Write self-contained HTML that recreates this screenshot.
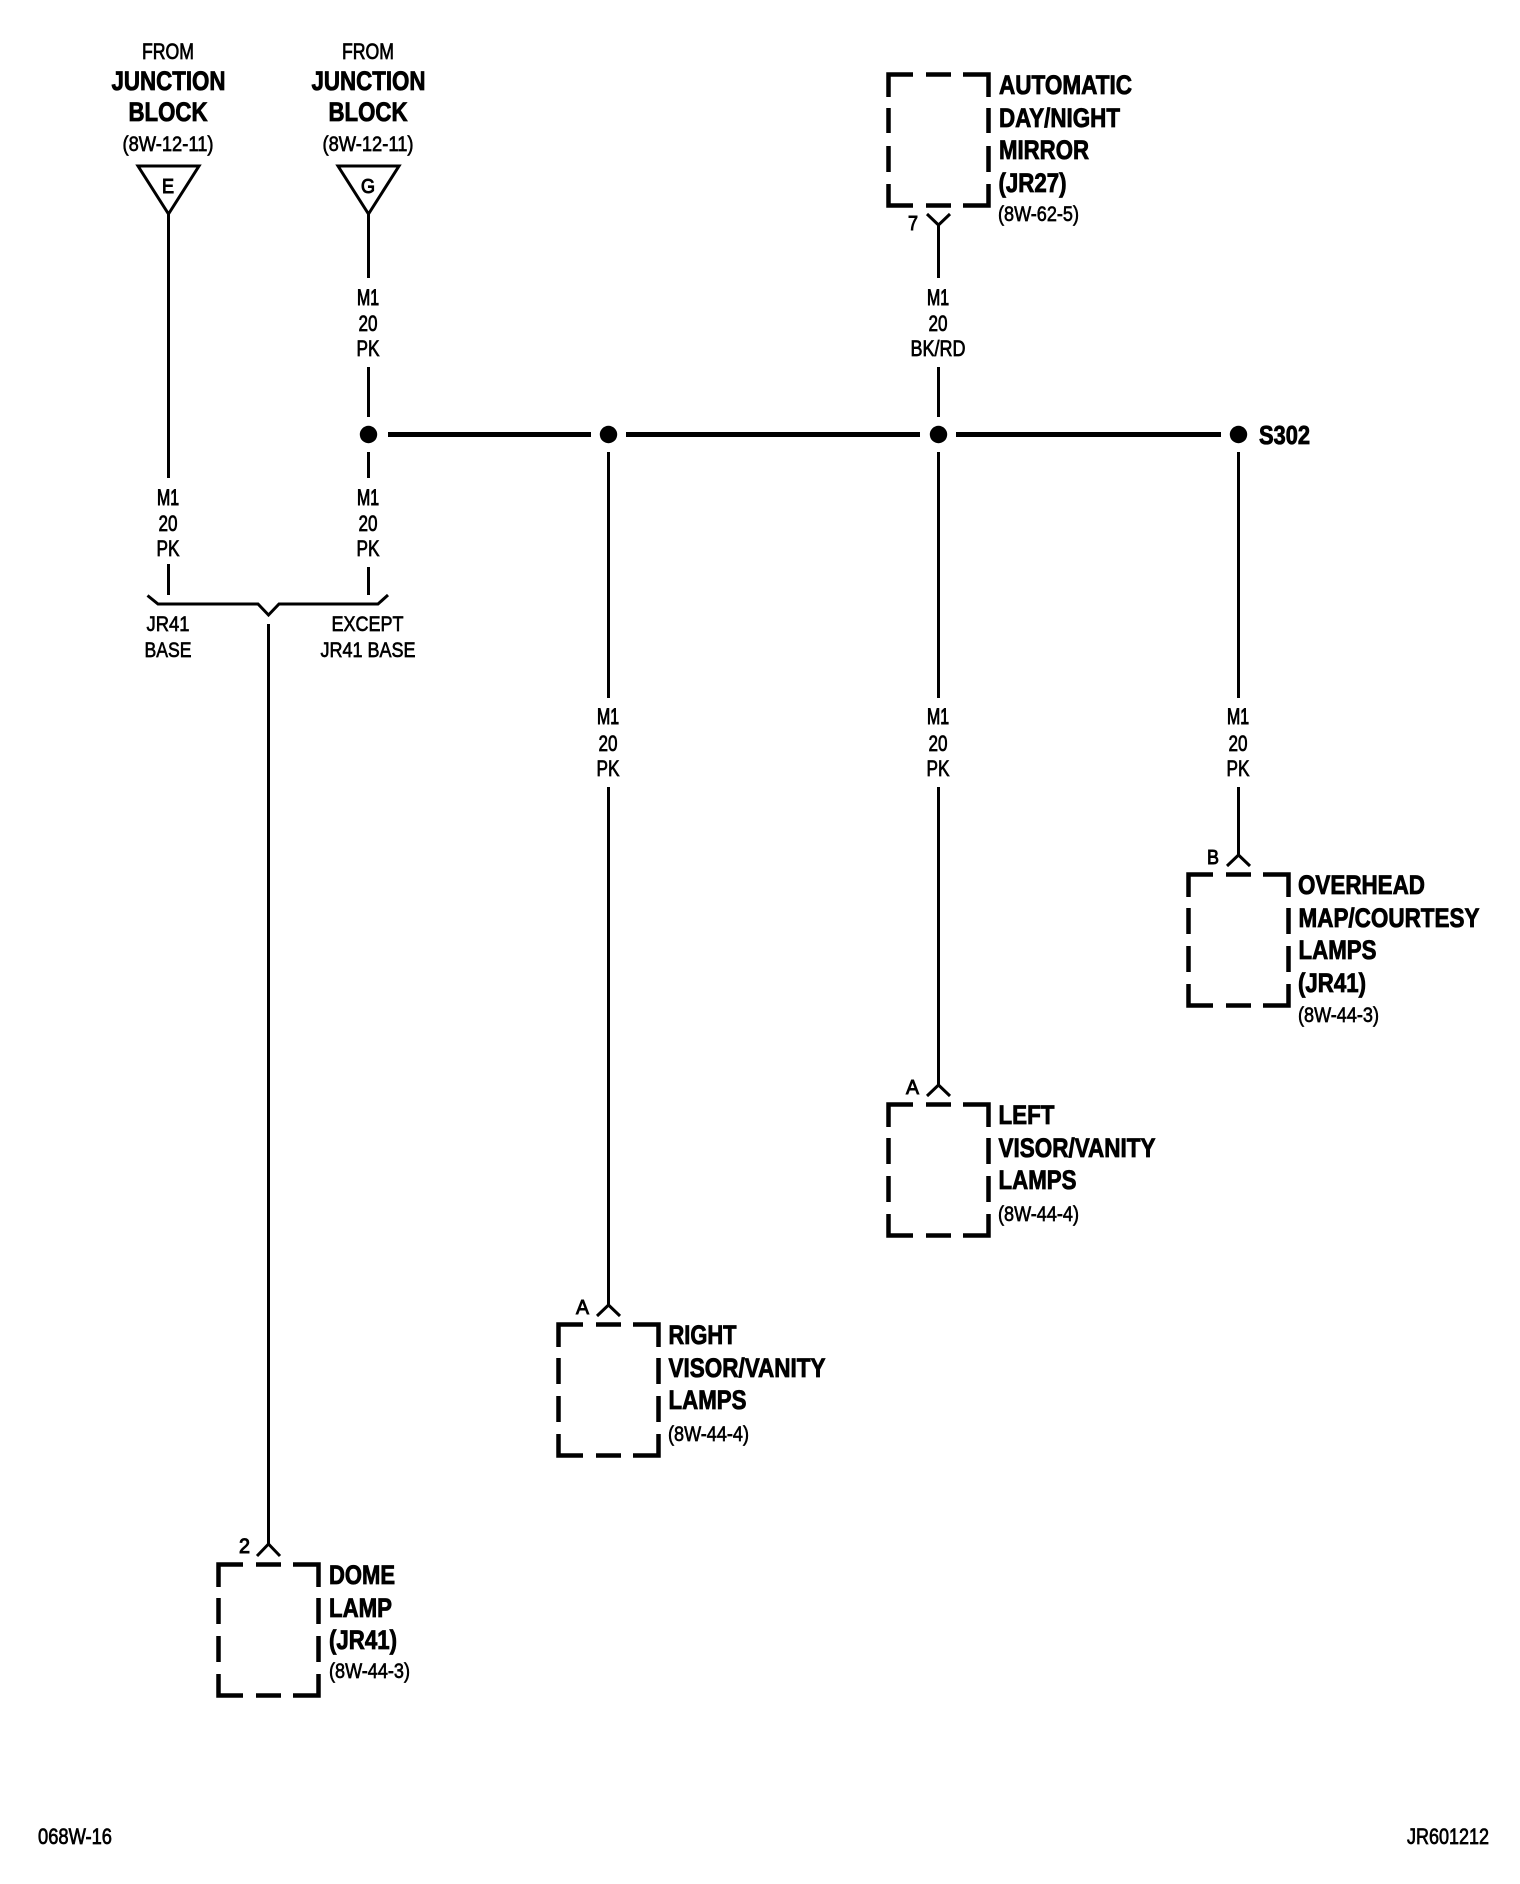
<!DOCTYPE html>
<html>
<head>
<meta charset="utf-8">
<title>Wiring diagram</title>
<style>
html,body{margin:0;padding:0;background:#fff;}
svg{display:block;}
text{font-family:"Liberation Sans",Arial,sans-serif;fill:#000;}
.b{font-weight:700;font-size:27px;stroke:#000;stroke-width:.85px;}
.r{font-size:22px;stroke:#000;stroke-width:.75px;}
.s{font-size:21px;stroke:#000;stroke-width:.65px;}
.c{text-anchor:middle;}
.w{fill:none;stroke:#000;stroke-width:3px;}
.bus{fill:none;stroke:#000;stroke-width:5px;}
.box{fill:none;stroke:#000;stroke-width:4.5px;stroke-linejoin:miter;}
.a{fill:none;stroke:#000;stroke-width:3px;stroke-linejoin:miter;}
</style>
</head>
<body>
<svg width="1520" height="1884" viewBox="0 0 1520 1884" xmlns="http://www.w3.org/2000/svg">
<rect width="1520" height="1884" fill="#fff"/>

<!-- Wires -->
<path class="w" d="M168.5 214V478M168.5 564V595"/>
<path class="w" d="M368.5 214V278M368.5 367V417M368.5 452V478M368.5 567V595"/>
<path class="w" d="M938.5 225V278M938.5 367V417M938.5 452V698M938.5 787V1085"/>
<path class="w" d="M608.5 452V698M608.5 787V1305"/>
<path class="w" d="M1238.5 452V698M1238.5 787V855"/>
<path class="w" d="M268.5 624V1544"/>

<!-- Bus -->
<path class="bus" d="M388 434.500H591M626 434.500H920M956 434.500H1221"/>
<circle cx="368.5" cy="434.5" r="8.7"/>
<circle cx="608.5" cy="434.5" r="8.7"/>
<circle cx="938.5" cy="434.5" r="8.7"/>
<circle cx="1238.5" cy="434.5" r="8.7"/>

<!-- Triangles -->
<path class="a" d="M138 166H199L168.5 214Z"/>
<path class="a" d="M338 166H399L368.5 214Z"/>

<!-- Brace -->
<path class="a" d="M147.5 595.500L158 604H258L268.500 615L279 604H378L388 595"/>

<!-- Connector arrows -->
<path class="a" d="M927 214L938.500 225L950 214"/>
<path class="a" d="M1227 866L1238.500 855L1250 866"/>
<path class="a" d="M927 1096L938.500 1085L950 1096"/>
<path class="a" d="M597 1316L608.500 1305L620 1316"/>
<path class="a" d="M257 1556L268.500 1544L280 1556"/>

<!-- Dashed boxes -->
<path class="box" d="M888.500 97V74.500H913M926 74.500H951M963 74.500H988.500V97M888.500 108V133M888.500 146V172M888.500 184V205.500H913M926 205.500H951M963 205.500H988.500V184M988.500 108V133M988.500 146V172"/>
<path class="box" d="M1188.500 897V874.500H1213M1226 874.500H1251M1263 874.500H1288.500V897M1188.500 908V934M1188.500 946V972M1188.500 984V1005.500H1213M1226 1005.500H1251M1263 1005.500H1288.500V984M1288.500 908V934M1288.500 946V972"/>
<path class="box" d="M888.500 1127V1104.500H913M926 1104.500H951M963 1104.500H988.500V1127M888.500 1138V1164M888.500 1176V1202M888.500 1214V1235.500H913M926 1235.500H951M963 1235.500H988.500V1214M988.500 1138V1164M988.500 1176V1202"/>
<path class="box" d="M558.500 1347V1324.500H583M596 1324.500H621M633 1324.500H658.500V1347M558.500 1358V1384M558.500 1396V1422M558.500 1434V1455.500H583M596 1455.500H621M633 1455.500H658.500V1434M658.500 1358V1384M658.500 1396V1422"/>
<path class="box" d="M218.500 1587V1564.500H243M256 1564.500H281M293 1564.500H318.500V1587M218.500 1598V1624M218.500 1636V1662M218.500 1674V1695.500H243M256 1695.500H281M293 1695.500H318.500V1674M318.500 1598V1624M318.500 1636V1662"/>

<!-- Top left labels -->
<text class="r c" x="168" y="59" textLength="52" lengthAdjust="spacingAndGlyphs">FROM</text>
<text class="b c" x="168.500" y="90" textLength="114" lengthAdjust="spacingAndGlyphs">JUNCTION</text>
<text class="b c" x="168" y="121" textLength="79" lengthAdjust="spacingAndGlyphs">BLOCK</text>
<text class="s c" x="168" y="151" textLength="91" lengthAdjust="spacingAndGlyphs">(8W-12-11)</text>
<text class="r c" x="168" y="193" style="font-size:20px;stroke-width:1px" textLength="12" lengthAdjust="spacingAndGlyphs">E</text>

<text class="r c" x="368" y="59" textLength="52" lengthAdjust="spacingAndGlyphs">FROM</text>
<text class="b c" x="368.500" y="90" textLength="114" lengthAdjust="spacingAndGlyphs">JUNCTION</text>
<text class="b c" x="368" y="121" textLength="79" lengthAdjust="spacingAndGlyphs">BLOCK</text>
<text class="s c" x="368" y="151" textLength="91" lengthAdjust="spacingAndGlyphs">(8W-12-11)</text>
<text class="r c" x="368" y="193" style="font-size:20px;stroke-width:1px" textLength="14" lengthAdjust="spacingAndGlyphs">G</text>

<!-- Wire labels -->
<text class="r c" x="168" y="505" style="stroke-width:1px" textLength="22" lengthAdjust="spacingAndGlyphs">M1</text>
<text class="r c" x="168" y="531" textLength="19" lengthAdjust="spacingAndGlyphs">20</text>
<text class="r c" x="168" y="556" textLength="23" lengthAdjust="spacingAndGlyphs">PK</text>

<text class="r c" x="368" y="505" style="stroke-width:1px" textLength="22" lengthAdjust="spacingAndGlyphs">M1</text>
<text class="r c" x="368" y="531" textLength="19" lengthAdjust="spacingAndGlyphs">20</text>
<text class="r c" x="368" y="556" textLength="23" lengthAdjust="spacingAndGlyphs">PK</text>

<text class="r c" x="368" y="305" style="stroke-width:1px" textLength="22" lengthAdjust="spacingAndGlyphs">M1</text>
<text class="r c" x="368" y="331" textLength="19" lengthAdjust="spacingAndGlyphs">20</text>
<text class="r c" x="368" y="356" textLength="23" lengthAdjust="spacingAndGlyphs">PK</text>

<text class="r c" x="938" y="305" style="stroke-width:1px" textLength="22" lengthAdjust="spacingAndGlyphs">M1</text>
<text class="r c" x="938" y="331" textLength="19" lengthAdjust="spacingAndGlyphs">20</text>
<text class="r c" x="938" y="356" textLength="55" lengthAdjust="spacingAndGlyphs">BK/RD</text>

<text class="r c" x="608" y="724" style="stroke-width:1px" textLength="22" lengthAdjust="spacingAndGlyphs">M1</text>
<text class="r c" x="608" y="751" textLength="19" lengthAdjust="spacingAndGlyphs">20</text>
<text class="r c" x="608" y="776" textLength="23" lengthAdjust="spacingAndGlyphs">PK</text>

<text class="r c" x="938" y="724" style="stroke-width:1px" textLength="22" lengthAdjust="spacingAndGlyphs">M1</text>
<text class="r c" x="938" y="751" textLength="19" lengthAdjust="spacingAndGlyphs">20</text>
<text class="r c" x="938" y="776" textLength="23" lengthAdjust="spacingAndGlyphs">PK</text>

<text class="r c" x="1238" y="724" style="stroke-width:1px" textLength="22" lengthAdjust="spacingAndGlyphs">M1</text>
<text class="r c" x="1238" y="751" textLength="19" lengthAdjust="spacingAndGlyphs">20</text>
<text class="r c" x="1238" y="776" textLength="23" lengthAdjust="spacingAndGlyphs">PK</text>

<!-- Brace labels -->
<text class="s c" x="168" y="631" textLength="43" lengthAdjust="spacingAndGlyphs">JR41</text>
<text class="s c" x="168" y="657" textLength="47" lengthAdjust="spacingAndGlyphs">BASE</text>
<text class="s c" x="367.500" y="631" textLength="72" lengthAdjust="spacingAndGlyphs">EXCEPT</text>
<text class="s c" x="368" y="657" textLength="95" lengthAdjust="spacingAndGlyphs">JR41 BASE</text>

<!-- Splice -->
<text class="b" x="1259" y="444" style="font-size:26px" textLength="51" lengthAdjust="spacingAndGlyphs">S302</text>

<!-- Mirror -->
<text class="b" x="999" y="94" textLength="133" lengthAdjust="spacingAndGlyphs">AUTOMATIC</text>
<text class="b" x="999" y="127" textLength="121" lengthAdjust="spacingAndGlyphs">DAY/NIGHT</text>
<text class="b" x="999" y="159" textLength="90" lengthAdjust="spacingAndGlyphs">MIRROR</text>
<text class="b" x="998.500" y="192" textLength="68" lengthAdjust="spacingAndGlyphs">(JR27)</text>
<text class="s" x="998" y="221" textLength="81" lengthAdjust="spacingAndGlyphs">(8W-62-5)</text>
<text class="r" x="908" y="230" style="font-size:20px;stroke-width:.9px" textLength="10" lengthAdjust="spacingAndGlyphs">7</text>

<!-- Overhead -->
<text class="b" x="1298" y="894" textLength="127" lengthAdjust="spacingAndGlyphs">OVERHEAD</text>
<text class="b" x="1298.500" y="927" textLength="181" lengthAdjust="spacingAndGlyphs">MAP/COURTESY</text>
<text class="b" x="1298.500" y="959" textLength="78" lengthAdjust="spacingAndGlyphs">LAMPS</text>
<text class="b" x="1298" y="992" textLength="68" lengthAdjust="spacingAndGlyphs">(JR41)</text>
<text class="s" x="1298" y="1022" textLength="81" lengthAdjust="spacingAndGlyphs">(8W-44-3)</text>
<text class="r" x="1207" y="864" style="font-size:20px;stroke-width:.9px" textLength="12" lengthAdjust="spacingAndGlyphs">B</text>

<!-- Left visor -->
<text class="b" x="998.500" y="1124" textLength="56" lengthAdjust="spacingAndGlyphs">LEFT</text>
<text class="b" x="998.500" y="1157" textLength="157" lengthAdjust="spacingAndGlyphs">VISOR/VANITY</text>
<text class="b" x="998.500" y="1189" textLength="78" lengthAdjust="spacingAndGlyphs">LAMPS</text>
<text class="s" x="998" y="1221" textLength="81" lengthAdjust="spacingAndGlyphs">(8W-44-4)</text>
<text class="r" x="906" y="1094" style="font-size:20px;stroke-width:.9px" textLength="13" lengthAdjust="spacingAndGlyphs">A</text>

<!-- Right visor -->
<text class="b" x="668.500" y="1344" textLength="68" lengthAdjust="spacingAndGlyphs">RIGHT</text>
<text class="b" x="668.500" y="1377" textLength="157" lengthAdjust="spacingAndGlyphs">VISOR/VANITY</text>
<text class="b" x="668.500" y="1409" textLength="78" lengthAdjust="spacingAndGlyphs">LAMPS</text>
<text class="s" x="668" y="1441" textLength="81" lengthAdjust="spacingAndGlyphs">(8W-44-4)</text>
<text class="r" x="576" y="1314" style="font-size:20px;stroke-width:.9px" textLength="13" lengthAdjust="spacingAndGlyphs">A</text>

<!-- Dome -->
<text class="b" x="329" y="1584" textLength="66" lengthAdjust="spacingAndGlyphs">DOME</text>
<text class="b" x="329" y="1617" textLength="63" lengthAdjust="spacingAndGlyphs">LAMP</text>
<text class="b" x="329" y="1649" textLength="68" lengthAdjust="spacingAndGlyphs">(JR41)</text>
<text class="s" x="329" y="1678" textLength="81" lengthAdjust="spacingAndGlyphs">(8W-44-3)</text>
<text class="r" x="239" y="1553" style="font-size:21px;stroke-width:1px" textLength="11" lengthAdjust="spacingAndGlyphs">2</text>

<!-- Footer -->
<text class="r" x="38" y="1844" textLength="74" lengthAdjust="spacingAndGlyphs">068W-16</text>
<text class="r" x="1407" y="1844" textLength="82" lengthAdjust="spacingAndGlyphs">JR601212</text>
</svg>
</body>
</html>
